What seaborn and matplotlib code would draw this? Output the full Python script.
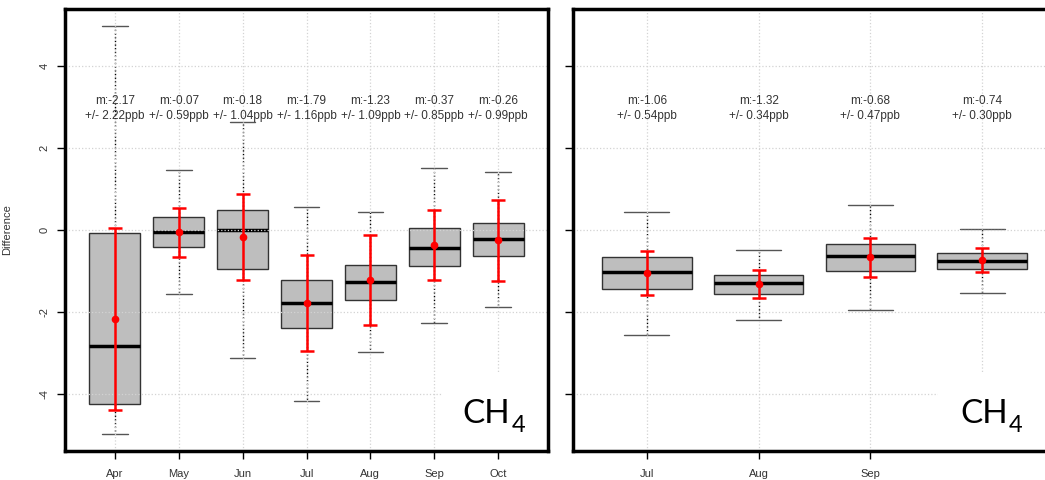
import matplotlib
matplotlib.use("Agg")
import matplotlib.pyplot as plt
from matplotlib.patches import Rectangle
import pandas as pd
import seaborn as sns

# left panel: five-number summaries (ppb)
months_a = ["Apr", "May", "Jun", "Jul", "Aug", "Sep", "Oct"]
lo_a = [-4.99, -1.57, -3.12, -4.18, -2.98, -2.29, -1.88]
q1_a = [-4.26, -0.43, -0.96, -2.41, -1.72, -0.88, -0.65]
med_a = [-2.84, -0.05, 0.00, -1.78, -1.27, -0.44, -0.23]
q3_a = [-0.09, 0.30, 0.48, -1.23, -0.86, 0.05, 0.15]
hi_a = [4.96, 1.45, 2.63, 0.55, 0.43, 1.49, 1.40]
mean_a = [-2.17, -0.07, -0.18, -1.79, -1.23, -0.37, -0.26]
sd_a = [2.22, 0.59, 1.04, 1.16, 1.09, 0.85, 0.99]

# right panel
months_b = ["Jul", "Aug", "Sep", "Oct"]
lo_b = [-2.57, -2.20, -1.95, -1.55]
q1_b = [-1.44, -1.56, -1.00, -0.96]
med_b = [-1.03, -1.31, -0.65, -0.77]
q3_b = [-0.68, -1.11, -0.35, -0.58]
hi_b = [0.44, -0.49, 0.59, 0.01]
mean_b = [-1.06, -1.32, -0.68, -0.74]
sd_b = [0.54, 0.34, 0.47, 0.30]


def five_num_frame(months, lo, q1, med, q3, hi):
    # 5 points per month -> quartiles of these are exactly q1/med/q3
    rows = []
    for m, a, b, c, d, e in zip(months, lo, q1, med, q3, hi):
        for v in (a, b, c, d, e):
            rows.append({"month": m, "value": v})
    return pd.DataFrame(rows)


sns.set_theme(style="white")
plt.rcParams["font.family"] = ["Liberation Sans", "DejaVu Sans"]
plt.rcParams["axes.unicode_minus"] = False

fig = plt.figure(figsize=(10.45, 4.8), dpi=100)
ax1 = fig.add_axes([65 / 1045, 1 - 451 / 480, 483 / 1045, 442 / 480])
ax2 = fig.add_axes([573 / 1045, 1 - 451 / 480, 483 / 1045, 442 / 480])

GRID = "#d3d3d3"
TXT = "#333333"


def draw_panel(ax, months, lo, q1, med, q3, hi, mean, sd, xlim):
    df = five_num_frame(months, lo, q1, med, q3, hi)
    sns.boxplot(data=df, x="month", y="value", order=months, ax=ax,
                whis=(0, 100), width=0.8, color="#bebebe", saturation=1,
                linecolor="#333333", linewidth=1, showfliers=False,
                medianprops=dict(color="black", linewidth=2.5),
                whiskerprops=dict(color="black", linestyle=":", linewidth=1),
                capprops=dict(color="#555555", linewidth=1))
    pos = list(range(len(months)))
    for y in [-4, -2, 0, 2, 4]:
        ax.axhline(y, color=GRID, ls=":", lw=0.9, zorder=2.5)
    for p in pos:
        ax.axvline(p, color=GRID, ls=":", lw=0.9, zorder=2.5)
    ax.errorbar(pos, mean, yerr=sd, fmt="o", color="red", ms=4.5, lw=1.8,
                capsize=5, capthick=1.8, zorder=3)
    for p, m, s in zip(pos, mean, sd):
        ax.text(p, 3.13, f"m:{m:.2f}", ha="center", va="center",
                fontsize=8.5, color=TXT, zorder=4)
        ax.text(p, 2.77, f"+/- {s:.2f}ppb", ha="center", va="center",
                fontsize=8.5, color=TXT, zorder=4)
    ax.set_xlim(*xlim)
    ax.set_ylim(-5.4, 5.38)
    ax.set_yticks([-4, -2, 0, 2, 4])
    ax.set_xlabel("")
    ax.set_ylabel("")
    for sp in ax.spines.values():
        sp.set_linewidth(2.5)
        sp.set_color("black")
        sp.set_zorder(5)
    ax.tick_params(axis="both", length=6, width=1, color="black",
                   labelsize=8, labelcolor=TXT, left=True, bottom=True)
    ax.tick_params(axis="x", pad=7)
    ax.tick_params(axis="y", pad=5)


draw_panel(ax1, months_a, lo_a, q1_a, med_a, q3_a, hi_a, mean_a, sd_a, (-0.78, 6.78))
draw_panel(ax2, months_b, lo_b, q1_b, med_b, q3_b, hi_b, mean_b, sd_b, (-0.66, 3.66))

for lbl in ax1.get_yticklabels():
    lbl.set_rotation(90)
    lbl.set_va("center")
ax1.set_ylabel("Difference", fontsize=8, color=TXT)
ax1.yaxis.set_label_coords(-0.11, 0.5)

ax2.set_xticks([0, 1, 2])
ax2.set_xticklabels(months_b[:3])
ax2.tick_params(labelleft=False)

# white label boxes with CH4
for ax, x0 in [(ax1, 442), (ax2, 938)]:
    ax.add_patch(Rectangle((x0 / 1045, 1 - 449 / 480), 0.2, 77 / 480,
                           transform=fig.transFigure, facecolor="white",
                           edgecolor="none", zorder=2.6))
for xc, x4 in [(462, 512), (960, 1009)]:
    fig.text(xc / 1045, 1 - 423 / 480, "CH", fontsize=24, family="Lato",
             va="baseline", ha="left", color="black")
    fig.text(x4 / 1045, 1 - 432 / 480, "4", fontsize=17, family="Lato",
             va="baseline", ha="left", color="black")

fig.savefig("out.png", dpi=100)
